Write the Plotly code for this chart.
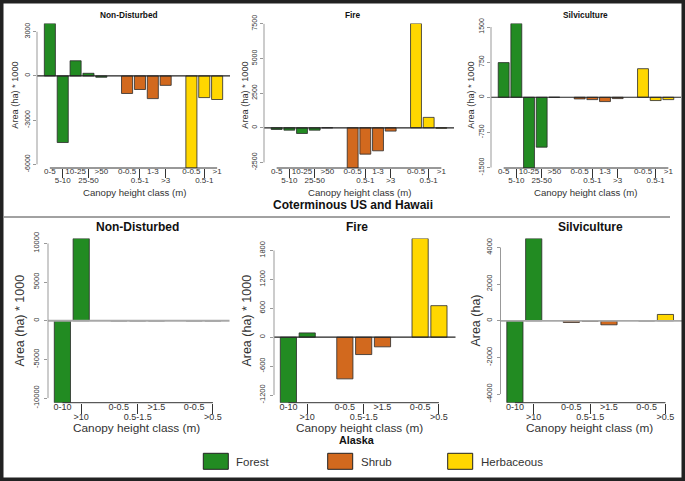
import plotly.graph_objects as go

# ---------------- data (area change, ha * 1000; Alaska silviculture in ha) ----------------
conus_forest_cls = ["0-5", "5-10", "10-25", "25-50", ">50"]
conus_shrub_cls = ["0-0.5", "0.5-1", "1-3", ">3"]
conus_herb_cls = ["0-0.5", "0.5-1", ">1"]

ak_forest_cls = ["0-10", ">10"]
ak_shrub_cls = ["0-0.5", "0.5-1.5", ">1.5"]
ak_herb_cls = ["0-0.5", ">0.5"]

conus_nd_forest = [3560, -4520, 1030, 180, -90]
conus_nd_shrub = [-1190, -920, -1540, -640]
conus_nd_herb = [-6250, -1470, -1600]

conus_fire_forest = [-120, -170, -410, -170, 0]
conus_fire_shrub = [-2900, -1900, -1660, -240]
conus_fire_herb = [7520, 750, -30]

conus_silv_forest = [740, 1575, -1510, -1065, 0]
conus_silv_shrub = [-35, -50, -92, -28]
conus_silv_herb = [610, -70, -50]

ak_nd_forest = [-10600, 10640]
ak_nd_shrub = [0, 0, 0]
ak_nd_herb = [0, 0]

ak_fire_forest = [-1360, 90]
ak_fire_shrub = [-865, -360, -200]
ak_fire_herb = [2050, 655]

ak_silv_forest = [-4470, 4490]
ak_silv_shrub = [-90, -20, -220]
ak_silv_herb = [0, 345]

conus_nd_yticks = [-6000, -3000, 0, 3000]
conus_fire_yticks = [-2500, 0, 2500, 5000, 7500]
conus_silv_yticks = [-1500, -750, 0, 750, 1500]
ak_nd_yticks = [-10000, -5000, 0, 5000, 10000]
ak_fire_yticks = [-1200, -600, 0, 600, 1200, 1800]
ak_silv_yticks = [-4000, -2000, 0, 2000, 4000]

panel_titles = ["Non-Disturbed", "Fire", "Silviculture"]
ytitle_k = "Area (ha) * 1000"
ytitle_ha = "Area (ha)"
xtitle = "Canopy height class (m)"
region_titles = ["Coterminous US and Hawaii", "Alaska"]
legend_names = ["Forest", "Shrub", "Herbaceous"]

# ---------------- styling ----------------
COLORS = ["#228B22", "#D2691E", "#FFD700"]
FONT = "Liberation Sans, Arial, sans-serif"
W, H = 685, 481


def px(x):
    return x / W


def py(y):
    return 1 - y / H


def axname(letter, i):
    return letter if i == 1 else f"{letter}{i}"


TOP_Y = (23.5, 168.0)
BOT_Y = (238.5, 402.7)
TOP_PAD = (1.0, 1.0)
BOT_PAD = (0.765, 0.88)
panels = [
    dict(cls=(conus_forest_cls, conus_shrub_cls, conus_herb_cls),
         vals=(conus_nd_forest, conus_nd_shrub, conus_nd_herb), yticks=conus_nd_yticks,
         xpx=(37, 230), ypx=TOP_Y, title=panel_titles[0], tcx=129, ytitle=ytitle_k, ytx=15, xtx=134,
         top=True, zcol="#222"),
    dict(cls=(conus_forest_cls, conus_shrub_cls, conus_herb_cls),
         vals=(conus_fire_forest, conus_fire_shrub, conus_fire_herb), yticks=conus_fire_yticks,
         xpx=(264, 454), ypx=TOP_Y, title=panel_titles[1], tcx=353, ytitle=ytitle_k, ytx=245, xtx=359,
         top=True, zcol="#222"),
    dict(cls=(conus_forest_cls, conus_shrub_cls, conus_herb_cls),
         vals=(conus_silv_forest, conus_silv_shrub, conus_silv_herb), yticks=conus_silv_yticks,
         xpx=(491, 681), ypx=TOP_Y, title=panel_titles[2], tcx=585, ytitle=ytitle_k, ytx=471, xtx=585,
         top=True, zcol="#222"),
    dict(cls=(ak_forest_cls, ak_shrub_cls, ak_herb_cls),
         vals=(ak_nd_forest, ak_nd_shrub, ak_nd_herb), yticks=ak_nd_yticks,
         xpx=(48, 229.5), ypx=BOT_Y, title=panel_titles[0], tcx=137, ytitle=ytitle_k, ytx=20, xtx=136,
         top=False, zcol="#a8a8a8"),
    dict(cls=(ak_forest_cls, ak_shrub_cls, ak_herb_cls),
         vals=(ak_fire_forest, ak_fire_shrub, ak_fire_herb), yticks=ak_fire_yticks,
         xpx=(274, 455.5), ypx=BOT_Y, title=panel_titles[1], tcx=357, ytitle=ytitle_k, ytx=247, xtx=359,
         top=False, zcol="#222"),
    dict(cls=(ak_forest_cls, ak_shrub_cls, ak_herb_cls),
         vals=(ak_silv_forest, ak_silv_shrub, ak_silv_herb), yticks=ak_silv_yticks,
         xpx=(500.5, 682), ypx=BOT_Y, title=panel_titles[2], tcx=590, ytitle=ytitle_ha, ytx=476, xtx=589,
         top=False, zcol="#a8a8a8"),
]

fig = go.Figure()
layout = dict(width=W, height=H, margin=dict(l=0, r=0, t=0, b=0, pad=0), autosize=False,
              paper_bgcolor="white", plot_bgcolor="rgba(0,0,0,0)",
              barmode="overlay", showlegend=False,
              font=dict(family=FONT, color="#333"))
shapes = []
annotations = []

for i, p in enumerate(panels, start=1):
    xa, ya, xo = axname("x", i), axname("y", i), f"x{i + 6}"
    positions = []
    start = 0
    row1_pos, row1_txt, row2_pos, row2_txt = [], [], [], []
    for g, (cls, vals) in enumerate(zip(p["cls"], p["vals"])):
        pos = [start + k for k in range(len(cls))]
        fig.add_trace(go.Bar(x=pos, y=vals, width=0.86, xaxis=xa, yaxis=ya,
                             marker=dict(color=COLORS[g], line=dict(color="#2a2a2a", width=0.8)),
                             name=legend_names[g], showlegend=False))
        for k, (ps, lb) in enumerate(zip(pos, cls)):
            if k % 2 == 0:
                row1_pos.append(ps); row1_txt.append(lb)
            else:
                row2_pos.append(ps); row2_txt.append(lb)
        positions += pos
        start += len(cls) + 1
    all_vals = [v for vs in p["vals"] for v in vs]
    ylo, yhi = min(all_vals), max(all_vals)
    last = positions[-1]
    padl, padr = TOP_PAD if p["top"] else BOT_PAD
    xr = [-padl, last + padr]
    xdom = [px(p["xpx"][0]), px(p["xpx"][1])]
    ydom = [py(p["ypx"][1]), py(p["ypx"][0])]
    tfs = 8 if p["top"] else 9
    ytfs = 7 if p["top"] else 7.5
    long_tick = 9 if p["top"] else 10

    layout[axname("xaxis", i)] = dict(
        domain=xdom, range=xr, anchor=ya, tickvals=row1_pos, ticktext=row1_txt,
        ticks="", ticklabelstandoff=-3,
        tickfont=dict(size=tfs, color="#333", family=FONT), tickangle=0,
        showline=False, showgrid=False, zeroline=False, fixedrange=True, automargin=False)
    layout[f"xaxis{i + 6}"] = dict(
        overlaying=xa, anchor=ya, range=xr, tickvals=row2_pos, ticktext=row2_txt,
        ticks="outside", ticklen=long_tick, tickcolor="#333", tickwidth=1, ticklabelstandoff=-5,
        tickfont=dict(size=tfs, color="#333", family=FONT), tickangle=0, side="bottom",
        showline=False, showgrid=False, zeroline=False, fixedrange=True, automargin=False)
    fig.add_trace(go.Scatter(x=[None], y=[None], xaxis=xo, yaxis=ya, showlegend=False,
                             hoverinfo="skip"))
    layout[axname("yaxis", i)] = dict(
        domain=ydom, range=[ylo, yhi], anchor=xa,
        tickvals=p["yticks"], ticktext=[str(v) for v in p["yticks"]],
        tickangle=-90, ticks="outside", ticklen=3, tickcolor="#999",
        ticklabelstandoff=0 if p["top"] else 2,
        tickfont=dict(size=ytfs, color="#333", family=FONT),
        showline=False, showgrid=False, zeroline=False, fixedrange=True, automargin=False)

    shapes.append(dict(type="line", xref=f"{xa} domain", yref=ya, x0=0, x1=1, y0=0, y1=0,
                       line=dict(color=p["zcol"], width=1.2 if p["zcol"] == "#222" else 1.8),
                       layer="above"))
    shapes.append(dict(type="line", xref=f"{xa} domain", yref=ya, x0=0, x1=0,
                       y0=p["yticks"][0], y1=p["yticks"][-1],
                       line=dict(color="#999", width=1)))
    shapes.append(dict(type="line", xref=xa, yref=f"{ya} domain", x0=positions[0], x1=last,
                       y0=0, y1=0, line=dict(color="#333", width=1)))

    ty = 15 if p["top"] else 227
    annotations.append(dict(text=f"<b>{p['title']}</b>", x=px(p["tcx"]), y=py(ty), xref="paper",
                            yref="paper", showarrow=False, xanchor="center", yanchor="middle",
                            font=dict(size=8.3 if p["top"] else 12, color="#111", family=FONT)))
    xty = 192 if p["top"] else 427.8
    annotations.append(dict(text=xtitle, x=px(p["xtx"]), y=py(xty), xref="paper", yref="paper",
                            showarrow=False, xanchor="center", yanchor="middle", borderpad=0,
                            font=dict(size=9.6 if p["top"] else 11.8, color="#333", family=FONT)))
    ymid = (p["ypx"][0] + p["ypx"][1]) / 2
    annotations.append(dict(text=p["ytitle"], x=px(p["ytx"]), y=py(ymid), xref="paper", yref="paper",
                            showarrow=False, xanchor="center", yanchor="middle", textangle=-90,
                            font=dict(size=9.2 if p["top"] else 12.5, color="#333", family=FONT)))

annotations.append(dict(text=f"<b>{region_titles[0]}</b>", x=px(353), y=py(205), xref="paper",
                        yref="paper", showarrow=False, font=dict(size=12, color="#111", family=FONT)))
annotations.append(dict(text=f"<b>{region_titles[1]}</b>", x=px(357), y=py(446.5), xref="paper",
                        yref="paper", showarrow=False, borderpad=0,
                        font=dict(size=10.8, color="#111", family=FONT)))

shapes.append(dict(type="line", xref="paper", yref="paper", x0=px(4), x1=px(670), y0=py(217), y1=py(217),
                   line=dict(color="#444", width=1)))

leg_box_x = [203.3, 327.7, 447.7]
for k, name in enumerate(legend_names):
    shapes.append(dict(type="rect", xref="paper", yref="paper",
                       x0=px(leg_box_x[k]), x1=px(leg_box_x[k] + 25), y0=py(469.3), y1=py(453.3),
                       fillcolor=COLORS[k], line=dict(color="#222", width=1)))
    annotations.append(dict(text=name, x=px(leg_box_x[k] + 31), y=py(461.5), xref="paper", yref="paper",
                            showarrow=False, xanchor="left", yanchor="middle",
                            font=dict(size=11.5, color="#333", family=FONT)))

shapes.append(dict(type="rect", xref="paper", yref="paper", x0=0, x1=1, y0=0, y1=1,
                   line=dict(color="#222", width=7), fillcolor="rgba(0,0,0,0)"))

layout["shapes"] = shapes
layout["annotations"] = annotations
fig.update_layout(**layout)
fig.write_html("out.html", config={"displayModeBar": False},
               post_script="document.body.style.margin='0';document.documentElement.style.overflow='hidden';")
